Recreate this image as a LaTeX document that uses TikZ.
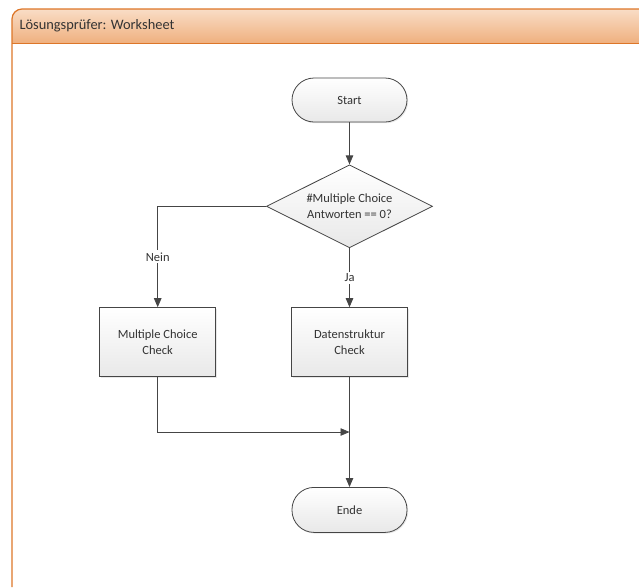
\documentclass[tikz,border=0pt]{standalone}
\usepackage{fontspec}
\setmainfont{Carlito}
\usetikzlibrary{arrows.meta,positioning,shapes.geometric,shadows}
\definecolor{lineGray}{HTML}{454545}
\definecolor{frameOrange}{HTML}{DD7628}
\definecolor{headTop}{HTML}{F9DDC6}
\definecolor{headBottom}{HTML}{EFB07F}
\tikzset{
    %Define standard arrow tip
    >={Triangle[length=9pt,width=7.5pt]},
    every node/.style={font=\fontsize{12.5}{16.5}\selectfont, text=black!80},
    terminal/.style={
      rectangle,
      rounded corners=22pt,
      draw=lineGray, thick,
      top color=white, bottom color=black!9,
      drop shadow={shadow xshift=1.2pt, shadow yshift=-1.2pt, opacity=0.18},
      minimum width=115pt,
      minimum height=44pt,
      align=center},
    decision/.style={
      diamond,
      draw=lineGray, thick,
      top color=white, bottom color=black!9,
      aspect=2, inner sep=0pt,
      minimum width=166pt,
      minimum height=83pt,
      align=center},
    process/.style={
      rectangle,
      draw=lineGray, thick,
      top color=white, bottom color=black!9,
      drop shadow={shadow xshift=1.2pt, shadow yshift=-1.2pt, opacity=0.18},
      minimum width=116pt,
      minimum height=69pt,
      align=center},
    flow/.style={draw=lineGray, thick},
    flowlabel/.style={fill=white, inner sep=2pt},
}

\begin{document}
\begin{tikzpicture}[x=1pt, y=1pt, node distance=42pt]
    \useasboundingbox (0,0) rectangle (639,-587);
    % swimlane frame
    \begin{scope}
      \clip[rounded corners=10pt] (12,-600) rectangle (660,-9);
      \shade[top color=headTop, bottom color=headBottom] (12,-43) rectangle (660,-9);
    \end{scope}
    \draw[frameOrange, line width=1.2pt, rounded corners=10pt] (12,-587) |- (660,-9);
    \draw[frameOrange, line width=1pt] (12,-43) -- (660,-43);
    \node (lane) [anchor=west, font=\fontsize{14.4}{17}\selectfont] at (16,-26)
          {Lösungsprüfer: Worksheet};

    % flow
    \node (start) [terminal] at (349.5,-100)
          {Start};
    \node (dec) [decision] [below=of start]
          {\#Multiple Choice\\Antworten == 0?}
          edge [<-, flow] (start);
    \node (ds) [process] [below=59pt of dec]
          {Datenstruktur\\Check};
    \node (mc) [process] [left=75pt of ds]
          {Multiple Choice\\Check};
    \node (ende) [terminal, minimum height=45pt] [below=110pt of ds]
          {Ende};
    \path (ds.south) ++(0,-55) coordinate (merge);

    \draw [->, flow] (dec.west) -| node [flowlabel, pos=0.75] {Nein} (mc.north);
    \draw [->, flow] (dec.south) -- node [flowlabel] {Ja} (ds.north);
    \draw [->, flow] (mc.south) |- (merge);
    \draw [->, flow] (ds.south) -- (ende.north);
\end{tikzpicture}
\end{document}
